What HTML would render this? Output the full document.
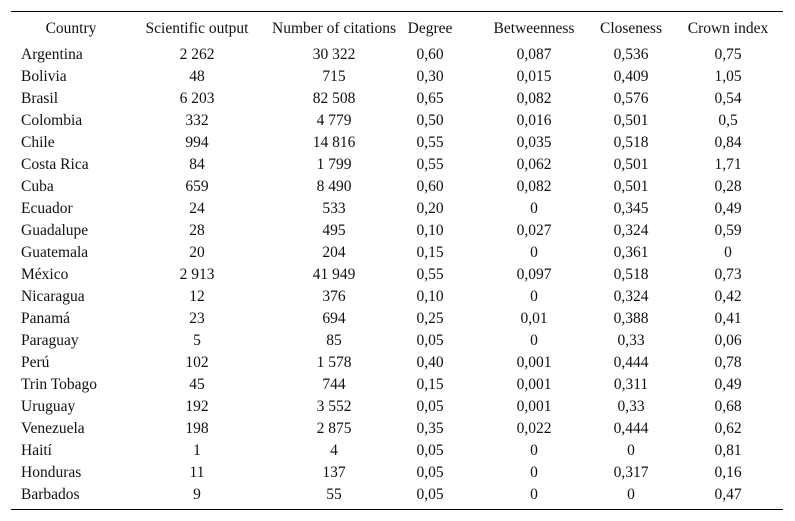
<!DOCTYPE html><html><head><style>
body{margin:0;width:795px;height:521px;background:#fff;font-family:"Liberation Serif",serif;font-size:15.5px;color:#111;position:relative;overflow:hidden}
.r{position:absolute;left:11px;width:772px;border-top:1.5px solid #000}
.t{position:absolute;white-space:nowrap;transform:translateX(-50%);line-height:18px}
.l{position:absolute;white-space:nowrap;left:21px;line-height:18px}
</style></head><body>
<div class="r" style="top:11px"></div>
<div class="r" style="top:509px"></div>
<div id="c"></div>
<script>
var xs=[197,334,430,534,631,728];
var h=["Scientific output","Number of citations","Degree","Betweenness","Closeness","Crown index"];
var d=[["Argentina","2 262","30 322","0,60","0,087","0,536","0,75"],["Bolivia","48","715","0,30","0,015","0,409","1,05"],["Brasil","6 203","82 508","0,65","0,082","0,576","0,54"],["Colombia","332","4 779","0,50","0,016","0,501","0,5"],["Chile","994","14 816","0,55","0,035","0,518","0,84"],["Costa Rica","84","1 799","0,55","0,062","0,501","1,71"],["Cuba","659","8 490","0,60","0,082","0,501","0,28"],["Ecuador","24","533","0,20","0","0,345","0,49"],["Guadalupe","28","495","0,10","0,027","0,324","0,59"],["Guatemala","20","204","0,15","0","0,361","0"],["México","2 913","41 949","0,55","0,097","0,518","0,73"],["Nicaragua","12","376","0,10","0","0,324","0,42"],["Panamá","23","694","0,25","0,01","0,388","0,41"],["Paraguay","5","85","0,05","0","0,33","0,06"],["Perú","102","1 578","0,40","0,001","0,444","0,78"],["Trin Tobago","45","744","0,15","0,001","0,311","0,49"],["Uruguay","192","3 552","0,05","0,001","0,33","0,68"],["Venezuela","198","2 875","0,35","0,022","0,444","0,62"],["Haití","1","4","0,05","0","0","0,81"],["Honduras","11","137","0,05","0","0,317","0,16"],["Barbados","9","55","0,05","0","0","0,47"]];
var s='<div class="t" style="left:71px;top:20px">Country</div>';
h.forEach(function(v,i){s+='<div class="t" style="left:'+xs[i]+'px;top:20px">'+v+'</div>';});
d.forEach(function(r,j){var y=46+22*j;s+='<div class="l" style="top:'+y+'px">'+r[0]+'</div>';for(var i=1;i<7;i++)s+='<div class="t" style="left:'+xs[i-1]+'px;top:'+y+'px">'+r[i]+'</div>';});
document.getElementById('c').innerHTML=s;
</script>
</body></html>
